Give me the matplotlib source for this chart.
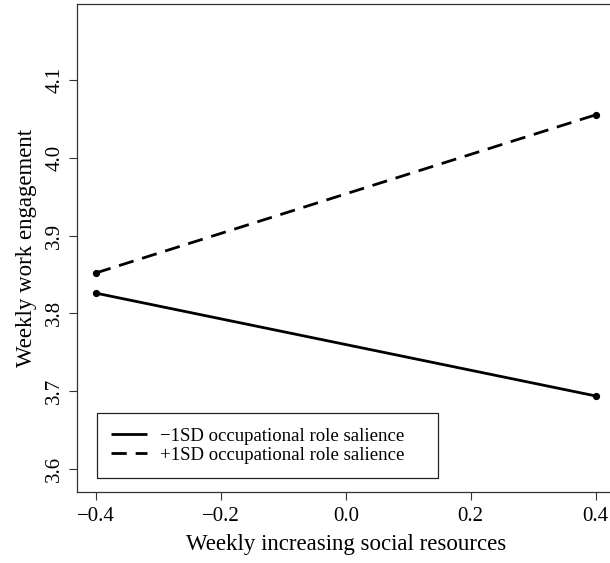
import matplotlib
matplotlib.use("Agg")
import matplotlib.pyplot as plt

plt.rcParams['font.family'] = ['Liberation Serif', 'DejaVu Serif']

x_vals = [-0.4, 0.4]
low_vals = [3.826, 3.694]
high_vals = [3.852, 4.055]
series_labels = ["\u22121SD occupational role salience", "+1SD occupational role salience"]
x_ticks = [-0.4, -0.2, 0.0, 0.2, 0.4]
x_tick_labels = ["\u22120.4", "\u22120.2", "0.0", "0.2", "0.4"]
y_ticks = [3.6, 3.7, 3.8, 3.9, 4.0, 4.1]
y_tick_labels = ["3.6", "3.7", "3.8", "3.9", "4.0", "4.1"]

fig = plt.figure(figsize=(6.10, 5.63), dpi=100)
W, H = 610, 563
left, right, bottom, top = 76.7, 615.7, 491.7, 4.3
ax = fig.add_axes([left / W, (H - bottom) / H, (right - left) / W, (bottom - top) / H])

ax.plot(x_vals, low_vals, color='black', lw=2.0, solid_capstyle='butt',
        marker='o', markersize=4.2, label=series_labels[0])
ax.plot(x_vals, high_vals, color='black', lw=2.0, dashes=(5.5, 3.2),
        marker='o', markersize=4.2, label=series_labels[1])

ax.set_xlim(-0.4309, 0.4322)
ax.set_ylim(3.571, 4.197)
ax.set_xticks(x_ticks)
ax.set_xticklabels(x_tick_labels, fontsize=15)
ax.set_yticks(y_ticks)
ax.set_yticklabels(y_tick_labels, fontsize=15, rotation=90, va='center')
ax.tick_params(direction='out', length=6, width=0.8, color='#333333')
ax.tick_params(axis='x', pad=5)
ax.tick_params(axis='y', pad=3)
for s in ax.spines.values():
    s.set_linewidth(0.9)
    s.set_color('#333333')

ax.set_xlabel("Weekly increasing social resources", fontsize=16.5, labelpad=6)
ax.set_ylabel("Weekly work engagement", fontsize=16.5, labelpad=6)

leg = ax.legend(loc='lower left', bbox_to_anchor=(0.0371, 0.0287, 0.6327, 0.1),
                mode='expand', borderaxespad=0,
                fancybox=False, edgecolor='#222222', fontsize=13.5, handlelength=1.95,
                handletextpad=0.7, borderpad=0.75, labelspacing=0.1, framealpha=1)
leg.get_frame().set_linewidth(0.9)
for h in leg.legend_handles:
    h.set_marker('')

fig.savefig("out.png", dpi=100)
